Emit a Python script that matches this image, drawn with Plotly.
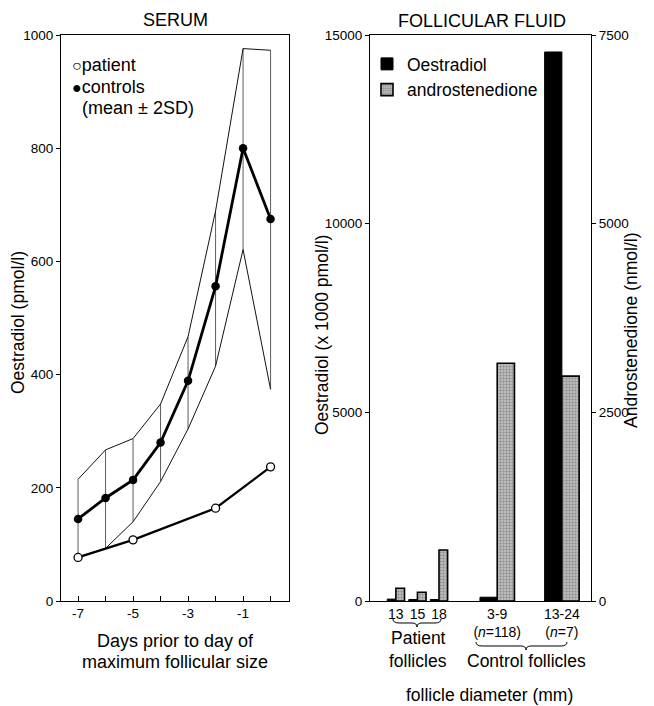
import plotly.graph_objects as go

# ---------------- data: SERUM ----------------
days = [-7, -6, -5, -4, -3, -2, -1, 0]
ctrl_mean = [145, 182, 214, 280, 389, 556, 800, 675]
ctrl_upper = [215, 267, 287, 348, 467, 689, 976, 973]
ctrl_lower = [78, 93, 140, 211, 304, 415, 621, 374]
pat_days = [-7, -5, -2, 0]
pat_vals = [77, 108, 164, 237]
serum_ticks = [0, 200, 400, 600, 800, 1000]
day_ticktext = ["-7", "", "-5", "", "-3", "", "-1", ""]

# ---------------- data: FOLLICULAR FLUID ----------------
groups = ["13", "15", "18", "3-9<br>(<i>n</i>=118)", "13-24<br>(<i>n</i>=7)"]
oestradiol = [50, 40, 40, 100, 14550]          # x 1000 pmol/l
androstenedione = [168, 115, 675, 3150, 2980]  # nmol/l
oe_ticks = [0, 5000, 10000, 15000]
oe_ticktext = ["0", "5000", "10000", "15000"]
an_ticks = [0, 2500, 5000, 7500]

# layout helpers (positions / widths)
group_pos = [1, 2, 3, 5.7, 8.7]
bar_w = [0.4, 0.4, 0.4, 0.8, 0.8]

W, H = 654, 706
OFF = 8  # default page body margin


def PX(p):
    return (p - OFF) / W


def PY(p):
    return 1 - (p - OFF) / H


FONT = "Liberation Sans, Arial, sans-serif"
fig = go.Figure()

# envelope vertical segments
vx, vy = [], []
for d, lo, up in zip(days, ctrl_lower, ctrl_upper):
    vx += [d, d, None]
    vy += [lo, up, None]
fig.add_trace(go.Scatter(x=vx, y=vy, mode="lines", line=dict(color="#333", width=0.8),
                         showlegend=False, xaxis="x", yaxis="y", hoverinfo="skip"))
fig.add_trace(go.Scatter(x=days, y=ctrl_upper, mode="lines", line=dict(color="#111", width=1),
                         showlegend=False, xaxis="x", yaxis="y"))
fig.add_trace(go.Scatter(x=days, y=ctrl_lower, mode="lines", line=dict(color="#111", width=1),
                         showlegend=False, xaxis="x", yaxis="y"))
fig.add_trace(go.Scatter(x=days, y=ctrl_mean, mode="lines+markers",
                         line=dict(color="black", width=2.8),
                         marker=dict(color="black", size=8.5),
                         showlegend=False, xaxis="x", yaxis="y"))
fig.add_trace(go.Scatter(x=pat_days, y=pat_vals, mode="lines+markers",
                         line=dict(color="black", width=2.2),
                         marker=dict(color="white", size=8, line=dict(color="black", width=1.3)),
                         showlegend=False, xaxis="x", yaxis="y"))

# bars
fig.add_trace(go.Bar(x=group_pos, y=oestradiol, width=bar_w, offset=[-w for w in bar_w],
                     marker=dict(color="black", line=dict(color="black", width=1)),
                     name="Oestradiol", legend="legend2", xaxis="x2", yaxis="y2"))
fig.add_trace(go.Bar(x=group_pos, y=androstenedione, width=bar_w, offset=[0] * len(bar_w),
                     marker=dict(color="#bdbdbd", line=dict(color="black", width=1.6),
                                 pattern=dict(shape=".", fgcolor="#5e5e5e", bgcolor="#c6c6c6",
                                              size=3, solidity=0.5)),
                     name="androstenedione", legend="legend2", xaxis="x2", yaxis="y3"))

TICKF = dict(family=FONT, size=13.5, color="black")
axis_common = dict(showgrid=False, zeroline=False, showline=True, linecolor="black",
                   linewidth=1.2, mirror=True, tickfont=TICKF,
                   ticks="outside", ticklen=4, tickcolor="black")

left_dom = [PX(61), PX(289)]
right_dom = [PX(370), PX(591)]
ydom = [PY(601), PY(35)]

fig.update_layout(
    width=W, height=H,
    margin=dict(l=0, r=0, t=0, b=0, autoexpand=False),
    paper_bgcolor="white", plot_bgcolor="white",
    barmode="overlay",
    font=dict(family=FONT, color="black"),
    xaxis=dict(axis_common, domain=left_dom, range=[-7.62, 0.67],
               tickvals=days, ticktext=day_ticktext,
               ticks="inside", ticklen=5, mirror=True),
    yaxis=dict(axis_common, domain=ydom, range=[0, 1000], tickvals=serum_ticks),
    xaxis2=dict(axis_common, domain=right_dom, range=[-0.2, 10.05], anchor="y2",
                tickvals=group_pos, ticktext=groups, ticks="", mirror=True,
                tickfont=dict(family=FONT, size=14, color="black")),
    yaxis2=dict(axis_common, domain=ydom, range=[0, 15000], tickvals=oe_ticks,
                ticktext=oe_ticktext, anchor="x2", mirror=False),
    yaxis3=dict(axis_common, domain=ydom, range=[0, 7500], tickvals=an_ticks,
                anchor="x2", overlaying="y2", side="right", mirror=False),
    legend2=dict(x=PX(367), y=PY(46), xanchor="left", yanchor="top",
                 bgcolor="rgba(0,0,0,0)", font=dict(family=FONT, size=17.5),
                 itemwidth=30, tracegroupgap=0),
)

ann = [
    dict(text="SERUM", x=175, y=20, size=18),
    dict(text="FOLLICULAR FLUID", x=482, y=21, size=18),
    dict(text="Oestradiol (pmol/l)", x=18, y=323, textangle=-90),
    dict(text="Oestradiol (x 1000 pmol/l)", x=322, y=335, textangle=-90),
    dict(text="Androstenedione (nmol/l)", x=631, y=330, textangle=-90),
    dict(text="Days prior to day of", x=175, y=641, size=18),
    dict(text="maximum follicular size", x=175, y=662, size=18),
    dict(text="Patient", x=418, y=638),
    dict(text="follicles", x=418, y=661),
    dict(text="Control follicles", x=526, y=661),
    dict(text="follicle diameter (mm)", x=490, y=695),
]
for a in ann:
    fig.add_annotation(text=a["text"], x=PX(a["x"]), y=PY(a["y"]), xref="paper", yref="paper",
                       xanchor="center", yanchor="middle",
                       showarrow=False, textangle=a.get("textangle", 0),
                       font=dict(family=FONT, size=a.get("size", 17.5), color="black"))

# left legend as text with circle glyphs
leg = [
    ("<span style='font-size:16px'>○</span>patient", 65, 70),
    ("<span style='font-size:16px'>●</span>controls", 87, 70),
    ("(mean ± 2SD)", 108, 80),
]
for txt, yy, xx in leg:
    fig.add_annotation(text=txt, x=PX(xx), y=PY(yy),
                       xref="paper", yref="paper", xanchor="left", yanchor="middle",
                       showarrow=False, font=dict(family=FONT, size=18, color="black"))


def brace(x0, x1, xm, ytop, h):
    # curly brace in page pixels -> paper coords
    def P(x, y):
        return f"{PX(x):.5f},{PY(y):.5f}"
    q = h / 2
    return (f"M {P(x0, ytop)} Q {P(x0, ytop + q)} {P(x0 + 6, ytop + q)} "
            f"L {P(xm - 5, ytop + q)} Q {P(xm, ytop + q)} {P(xm, ytop + h)} "
            f"Q {P(xm, ytop + q)} {P(xm + 5, ytop + q)} "
            f"L {P(x1 - 6, ytop + q)} Q {P(x1, ytop + q)} {P(x1, ytop)}")


fig.add_shape(type="path", path=brace(393, 441, 417, 619, 8), xref="paper", yref="paper",
              line=dict(color="black", width=1))
fig.add_shape(type="path", path=brace(476, 567, 526, 642, 8), xref="paper", yref="paper",
              line=dict(color="black", width=1))

fig.write_html("out.html")
